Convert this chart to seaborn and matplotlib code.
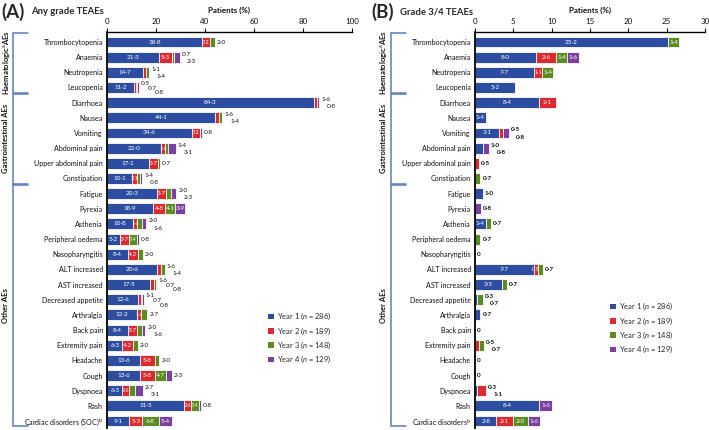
import numpy as np
import pandas as pd
import matplotlib
matplotlib.use("Agg")
import matplotlib.pyplot as plt
import seaborn as sns
from matplotlib.patches import Patch
from matplotlib.transforms import blended_transform_factory

sns.set_theme(style="white")
plt.rcParams['font.family'] = ['Lato', 'DejaVu Sans']
plt.rcParams['mathtext.fontset'] = 'custom'
plt.rcParams['mathtext.it'] = 'Lato:italic'
plt.rcParams['mathtext.rm'] = 'Lato'

# ---------------- data ----------------
events = ["Thrombocytopenia", "Anaemia", "Neutropenia", "Leucopenia",
          "Diarrhoea", "Nausea", "Vomiting", "Abdominal pain", "Upper abdominal pain",
          "Constipation", "Fatigue", "Pyrexia", "Asthenia", "Peripheral oedema",
          "Nasopharyngitis", "ALT increased", "AST increased", "Decreased appetite",
          "Arthralgia", "Back pain", "Extremity pain", "Headache", "Cough",
          "Dyspnoea", "Rash", "Cardiac disorders"]
labels_a = events[:-1] + ["Cardiac disorders (SOC)$^{\\mathrm{b}}$"]
labels_b = events[:-1] + ["Cardiac disorders$^{\\mathrm{b}}$"]

groups = ["Haematologic$^{\\mathrm{a}}$AEs", "Gastrointestinal AEs", "Other AEs"]
group_rows = [(0, 3), (4, 9), (10, 25)]

years = ["Year 1 ($n$ = 286)", "Year 2 ($n$ = 189)", "Year 3 ($n$ = 148)", "Year 4 ($n$ = 129)"]

a_y1 = [38.8, 21.3, 14.7, 11.2, 84.3, 44.1, 34.6, 22.0, 17.1, 10.1, 20.3, 18.9, 10.8,
        5.2, 8.4, 20.6, 17.5, 12.6, 12.2, 8.4, 6.3, 13.6, 13.6, 6.3, 31.5, 9.1]
a_y2 = [3.2, 5.3, 1.1, 0.5, 1.6, 1.6, 3.2, 1.6, 3.7, 2.1, 3.7, 4.8, 1.6,
        3.7, 4.2, 1.6, 1.6, 1.1, 1.6, 3.7, 4.2, 5.8, 5.8, 2.6, 2.6, 5.3]
a_y3 = [2.0, 0.7, 1.4, 0.7, 0.0, 1.4, 0.0, 1.4, 0.7, 1.4, 2.0, 4.1, 2.0,
        3.4, 2.0, 1.4, 0.7, 0.7, 2.7, 2.0, 2.0, 2.0, 4.7, 2.7, 3.4, 6.8]
a_y4 = [0.0, 2.3, 0.0, 0.8, 0.8, 0.0, 0.8, 3.1, 0.0, 0.8, 2.3, 3.9, 1.6,
        0.8, 0.0, 0.0, 0.8, 0.8, 0.0, 1.6, 0.0, 0.0, 2.3, 3.1, 0.8, 5.4]

b_y1 = [25.2, 8.0, 7.7, 5.2, 8.4, 1.4, 3.1, 1.0, 0.0, 0.0, 1.0, 0.0, 1.4,
        0.0, 0.0, 7.7, 3.5, 0.3, 0.7, 0.0, 0.0, 0.0, 0.0, 0.3, 8.4, 2.8]
b_y2 = [0.0, 2.6, 1.1, 0.0, 2.1, 0.0, 0.5, 0.0, 0.5, 0.0, 0.0, 0.0, 0.0,
        0.0, 0.0, 0.5, 0.0, 0.0, 0.0, 0.0, 0.5, 0.0, 0.0, 1.1, 0.0, 2.1]
b_y3 = [1.4, 1.4, 1.4, 0.0, 0.0, 0.0, 0.0, 0.0, 0.0, 0.7, 0.0, 0.0, 0.7,
        0.7, 0.0, 0.7, 0.7, 0.7, 0.0, 0.0, 0.7, 0.0, 0.0, 0.0, 0.0, 2.0]
b_y4 = [0.0, 1.6, 0.0, 0.0, 0.0, 0.0, 0.8, 0.8, 0.0, 0.0, 0.0, 0.8, 0.0,
        0.0, 0.0, 0.0, 0.0, 0.0, 0.0, 0.0, 0.0, 0.0, 0.0, 0.0, 1.6, 1.6]

colors = ["#2d4ea0", "#dc2a2e", "#5b8c1f", "#7b3f9f"]
bracket_color = "#5b7cc0"

LABEL_FS = 5.1
VAL_FS = 4.6


def fmt(v):
    return f"{v:.1f}".replace(".", "\u00b7")


def inside_a(i, k, v):
    if k == 0:
        return True
    if (i, k) in {(7, 1), (12, 1), (18, 1)}:
        return True
    return v >= 3.2 or (k == 1 and v >= 2.1)


def inside_b(i, k, v):
    if (i, k) == (15, 1):
        return True
    if (i, k) == (23, 1):
        return False
    return v >= 1.1


fig = plt.figure(figsize=(7.09, 4.30), dpi=100)
W, H = 709, 430
ax_a = fig.add_axes([107 / W, 1 - 428 / H, (352 - 107) / W, (428 - 32) / H])
ax_b = fig.add_axes([475 / W, 1 - 428 / H, (705 - 475) / W, (428 - 32) / H])


def draw_panel(ax, vals, xmax, step, ylabels, inside_fn, bold_out, fig_xbr, fig_xtxt, px_w):
    arr = np.array(vals)
    cum = np.cumsum(arr, axis=0)
    df = pd.DataFrame({"event": events})
    for k in range(4):
        df[f"c{k}"] = cum[k]
    for k in range(3, -1, -1):
        sns.barplot(data=df, x=f"c{k}", y="event", order=events, color=colors[k],
                    orient="h", width=0.72, edgecolor="white", linewidth=0.6,
                    saturation=1, ax=ax)
    n = len(events)
    for i in range(n):
        outs = []
        left = 0.0
        for k in range(4):
            v = arr[k, i]
            if v > 0:
                if inside_fn(i, k, v):
                    seg_px = v / xmax * px_w
                    fs = VAL_FS if seg_px >= 8.5 else 3.9
                    ax.text(left + v / 2, i, fmt(v), color="white", ha="center",
                            va="center", fontsize=fs)
                else:
                    outs.append(v)
            left += v
        end = cum[3, i]
        if end == 0:
            outs_txt = ["0"]
        else:
            outs_txt = [fmt(v) for v in outs]
        m = len(outs_txt)
        if m == 1:
            offs = [(1.5, 0)]
        elif m == 2:
            offs = [(1.5, 2.2), (5.5, -3.0)]
        else:
            offs = [(1.0, 2.8), (5.8, -0.5), (11.0, -3.8)]
        for t, (dx, dy) in zip(outs_txt, offs):
            ax.annotate(t, xy=(end, i), xytext=(dx, dy), textcoords="offset points",
                        ha="left", va="center", fontsize=VAL_FS, color="#111111",
                        fontweight="bold" if bold_out else "normal")
    ax.set_xlim(0, xmax)
    ax.set_ylim(25.46, -0.66)
    ax.set_xticks(np.arange(0, xmax + 0.1, step))
    ax.xaxis.tick_top()
    ax.xaxis.set_label_position("top")
    ax.set_xlabel("Patients (%)", fontsize=5.8, fontweight="bold", labelpad=4, color="#111111")
    ax.set_ylabel("")
    ax.set_yticks(range(n))
    ax.set_yticklabels(ylabels, fontsize=LABEL_FS, color="#111111")
    ax.tick_params(axis="x", labelsize=5.8, length=3, width=0.8, pad=2, colors="#111111",
                   direction="out", top=True)
    ax.tick_params(axis="y", length=0, pad=3)
    for s in ["right", "bottom"]:
        ax.spines[s].set_visible(False)
    ax.spines["left"].set_color("black")
    ax.spines["left"].set_linewidth(1.3)
    ax.spines["top"].set_color("black")
    ax.spines["top"].set_linewidth(1.0)
    ax.grid(False)
    # brackets
    tr = blended_transform_factory(fig.transFigure, ax.transData)
    x0 = fig_xbr / W
    x1 = (fig_xbr + 15) / W
    for g, (r0, r1) in zip(groups, group_rows):
        top = r0 - 0.6
        bot = r1 + 0.35
        ax.plot([x1, x0, x0, x1], [top, top, bot, bot], transform=tr, color=bracket_color,
                lw=1.1, clip_on=False, solid_joinstyle="miter")
        ax.text(fig_xtxt / W, (top + bot) / 2, g, transform=tr, rotation=90, ha="center",
                va="center", fontsize=5.5, fontweight="bold", color="#111111")


draw_panel(ax_a, [a_y1, a_y2, a_y3, a_y4], 100, 20, labels_a, inside_a, False, 13, 6, 245)
draw_panel(ax_b, [b_y1, b_y2, b_y3, b_y4], 30, 5, labels_b, inside_b, True, 391, 383, 230)

# titles
fig.text(1 / W, 1 - 12 / H, "(A)", fontsize=13.5, fontweight="bold", va="center", ha="left")
fig.text(31 / W, 1 - 12 / H, "Any grade TEAEs", fontsize=6.8, fontweight="bold", va="center", ha="left")
fig.text(371 / W, 1 - 12 / H, "(B)", fontsize=13.5, fontweight="bold", va="center", ha="left")
fig.text(400 / W, 1 - 12 / H, "Grade 3/4 TEAEs", fontsize=6.8, fontweight="bold", va="center", ha="left")

handles = [Patch(facecolor=c, edgecolor="none") for c in colors]
for bx, by in [(268, 311), (610, 301)]:
    fig.legend(handles, years, loc="upper left", bbox_to_anchor=(bx / W, 1 - by / H),
               frameon=False, fontsize=5.4, handlelength=0.8, handleheight=0.8,
               handletextpad=0.35, labelspacing=0.4, borderaxespad=0, borderpad=0)

fig.savefig("out.png", dpi=100)
